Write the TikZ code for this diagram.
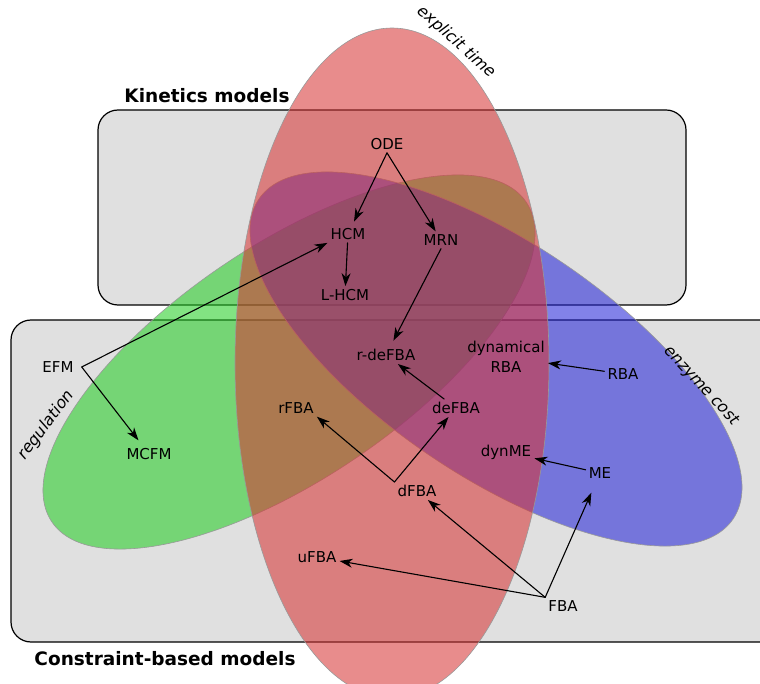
\documentclass[tikz,border=0pt]{standalone}
\usepackage{fontspec}
\setmainfont{DejaVu Sans}[ItalicFont={DejaVu Sans Oblique}, BoldFont={DejaVu Sans Bold}]
\usetikzlibrary{arrows.meta}

\definecolor{boxgray}{RGB}{224,224,224}
\definecolor{timered}{RGB}{214,52,52}
\definecolor{regugreen}{RGB}{36,206,36}
\definecolor{costblue}{RGB}{36,36,216}

\begin{document}
\begin{tikzpicture}[x=1pt, y=-1pt, line cap = round, line join = round, >={Stealth[length=13pt,width=9pt,inset=4pt]}]
\tikzstyle{modelbox}=[draw=black, line width=1.2pt, fill=boxgray, rounded corners=20pt]
\tikzstyle{modelset}=[draw=black!40, line width=0.6pt, fill opacity=0.57]
\tikzstyle{boxtitle}=[font=\fontsize{18.5}{22}\selectfont\bfseries]
\tikzstyle{setname}=[font=\fontsize{16}{19}\selectfont\itshape]
\tikzstyle{model}=[font=\fontsize{15}{19.5}\selectfont, inner sep=3pt, align=center]
\tikzstyle{link}=[line width=1.1pt, ->]

\useasboundingbox (0,0) rectangle (760,684);

% the two families of models
\draw[modelbox] (98,110) rectangle (686,305);
\draw[modelbox] (11,320) rectangle (780,642);
\node[boxtitle] (kinetics) at (207,96) {Kinetics models};
\node[boxtitle] (constraint) at (165,659) {Constraint-based models};

% overlapping sets
\draw[modelset, fill=regugreen, rotate around={34:(289,362)}] (289,362) ellipse [x radius=286, y radius=117];
\draw[modelset, fill=costblue, rotate around={-34:(496,359)}] (496,359) ellipse [x radius=286, y radius=117];
\draw[modelset, fill=timered] (392,363) ellipse [x radius=157, y radius=335];
\node[setname, rotate=-42] (time) at (456,42) {explicit time};
\node[setname, rotate=53] (regulation) at (46,425) {regulation};
\node[setname, rotate=-47] (cost) at (701,386) {enzyme cost};

% models
\node[model] (ODE) at (387,144) {ODE};
\node[model] (HCM) at (348,234) {HCM};
\node[model] (MRN) at (441,240) {MRN};
\node[model] (lhcm) at (345,295) {L-HCM};
\node[model] (EFM) at (58,367) {EFM};
\node[model] (MCFM) at (149,454) {MCFM};
\node[model] (rdefba) at (386,355) {r-deFBA};
\node[model] (dynrba) at (506,357) {dynamical\\RBA};
\node[model] (RBA) at (623,374) {RBA};
\node[model] (deFBA) at (456,408) {deFBA};
\node[model] (rFBA) at (296,408) {rFBA};
\node[model] (dynME) at (506,452) {dynME};
\node[model] (ME) at (600,473) {ME};
\node[model] (dFBA) at (417,491) {dFBA};
\node[model] (uFBA) at (317,557) {uFBA};
\node[model] (FBA) at (563,606) {FBA};
\coordinate (efmfork) at ([xshift=5pt]EFM.east);

% links between models
\draw[link, shorten >=4pt] (ODE.south) -- (HCM);
\draw[link] (ODE.south) -- (MRN);
\draw[link] (HCM) -- (lhcm);
\draw[link] (efmfork) -- (HCM.south west);
\draw[link, shorten >=6pt] (efmfork) -- (MCFM);
\draw[link, shorten >=6pt] (MRN.south) -- (rdefba);
\draw[link] (deFBA) -- (rdefba);
\draw[link] (dFBA.north west) -- (rFBA.south east);
\draw[link] (dFBA.north west) -- (deFBA);
\draw[link] (RBA) -- (dynrba);
\draw[link] (ME) -- (dynME);
\draw[link] (FBA.north west) -- (dFBA);
\draw[link] (FBA.north west) -- (uFBA);
\draw[link, shorten >=12pt] (FBA.north west) -- (ME);
\end{tikzpicture}
\end{document}
